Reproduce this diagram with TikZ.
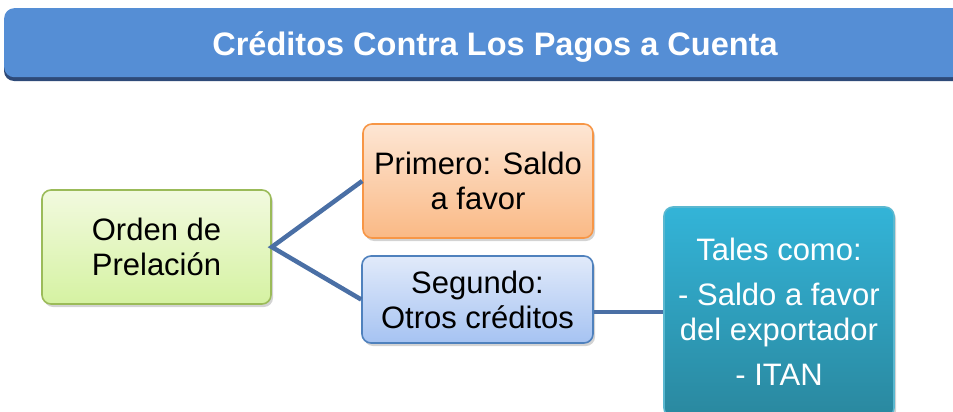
\documentclass[tikz,border=0pt]{standalone}
\usepackage{fontspec}
\setmainfont{Liberation Sans}
\usetikzlibrary{shadows}
\definecolor{titleblue}{HTML}{558ED5}
\definecolor{titleshadow}{HTML}{2E4A78}
\definecolor{linkblue}{HTML}{4A6FA5}
\definecolor{grnborder}{HTML}{9BBB59}
\definecolor{grntop}{HTML}{F2FADF}
\definecolor{grnbot}{HTML}{D5F2A2}
\definecolor{orgborder}{HTML}{F79646}
\definecolor{orgtop}{HTML}{FDE6D4}
\definecolor{orgbot}{HTML}{FAB985}
\definecolor{bluborder}{HTML}{4F81BD}
\definecolor{blutop}{HTML}{E1EAFA}
\definecolor{blubot}{HTML}{A6C3F2}
\definecolor{tealborder}{HTML}{5BB8D0}
\definecolor{tealtop}{HTML}{33B4D8}
\definecolor{tealbot}{HTML}{2A889F}
\tikzset{
  box/.style={rounded corners=9pt, line width=1.6pt, align=center, inner sep=0pt,
    font=\fontsize{31}{35}\selectfont,
    drop shadow={opacity=0.35, shadow xshift=2pt, shadow yshift=-3pt}},
  greenbox/.style={box, draw=grnborder, top color=grntop, bottom color=grnbot},
  orangebox/.style={box, draw=orgborder, top color=orgtop, bottom color=orgbot},
  bluebox/.style={box, draw=bluborder, top color=blutop, bottom color=blubot},
  tealbox/.style={box, draw=tealborder, top color=tealtop, bottom color=tealbot, text=white},
  link/.style={draw=linkblue, line width=4.5pt},
}
\begin{document}
\begin{tikzpicture}[x=1pt,y=1pt]
\useasboundingbox (0,0) rectangle (953,-412);
\clip (0,0) rectangle (953,-412);
% title bar
\fill[titleshadow, rounded corners=10pt] (4,-13) rectangle (975,-81);
\node[fill=titleblue, rounded corners=10pt, minimum width=971pt, minimum height=69pt,
      anchor=north west, inner sep=0pt] (titlebar) at (4,-8) {};
\node[text=white, font=\fontsize{32.5}{36}\selectfont\bfseries] (title) at (495,-47) {Créditos Contra Los Pagos a Cuenta};
% boxes
\node[greenbox, minimum width=229pt, minimum height=114pt] (orden) at (156.5,-247) {Orden de\\Prelación};
\node[orangebox, minimum width=230pt, minimum height=114pt] (primero) at (478,-181) {Primero: Saldo\\a favor};
\node[bluebox, minimum width=231pt, minimum height=87pt] (segundo) at (477.5,-299.5) {Segundo:\\Otros créditos};
\node[tealbox, minimum width=230pt, minimum height=210pt] (tales) at (779,-312) {Tales como:\\[10pt]- Saldo a favor\\del exportador\\[10pt]- ITAN};
% connectors
\draw[link] (primero.west) -- (orden.east) -- (segundo.west);
\draw[link] (tales.west -| segundo.east) -- (tales.west);
\end{tikzpicture}
\end{document}
